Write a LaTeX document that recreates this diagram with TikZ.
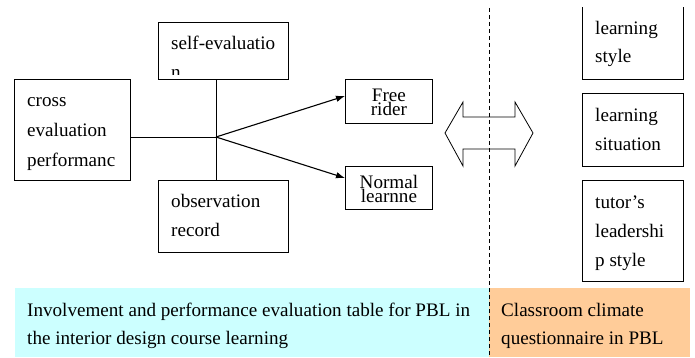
\documentclass[tikz,border=0pt]{standalone}
\usepackage{fontspec}
\setmainfont{Liberation Serif}
\usetikzlibrary{arrows.meta}
\definecolor{cyanbg}{HTML}{CCFFFF}
\definecolor{orangebg}{HTML}{FFCC99}
\begin{document}
\begin{tikzpicture}[x=1pt,y=-1pt,
  box/.style={draw=black,line width=0.8pt,anchor=north west,inner sep=0pt},
  txt/.style={anchor=base west,inner sep=0pt,font=\fontsize{19.1}{22}\selectfont},
  ctxt/.style={anchor=center,inner sep=0pt,align=center,font=\fontsize{19.1}{14.5}\selectfont},
  conn/.style={line width=0.8pt},
  arr/.style={line width=1.1pt,-{Latex[length=9pt,width=6.5pt]}}]
\useasboundingbox (0,0) rectangle (695,358);
% bottom backgrounds
\fill[cyanbg] (15,288) rectangle (489,357);
\fill[orangebg] (489,288) rectangle (690,357);
% dashed divider
\coordinate (dtop) at (489,8);
\coordinate (dbot) at (489,358);
\draw[line width=0.8pt,dash pattern=on 4pt off 3pt] (dtop) -- (dbot);
% left boxes
\node[box,minimum width=130pt,minimum height=57pt] (selfbox) at (158,22) {};
\node[box,minimum width=116pt,minimum height=101pt] (crossbox) at (14,79) {};
\node[box,minimum width=130pt,minimum height=72pt] (obsbox) at (158,180) {};
\node[box,minimum width=87pt,minimum height=44pt] (freebox) at (345,79) {};
\node[box,minimum width=87pt,minimum height=43pt] (normbox) at (345,166) {};
% right boxes
\begin{scope}
\clip (0,8) rectangle (695,358);
\node[box,minimum width=101pt,minimum height=79pt] (lsbox) at (582,0) {};
\end{scope}
\node[box,minimum width=101pt,minimum height=73pt] (sitbox) at (582,93) {};
\node[box,minimum width=101pt,minimum height=101pt] (tutbox) at (582,180) {};
% connectors
\coordinate (J) at (216,137);
\coordinate (fa) at (345,96);
\coordinate (na) at (345,178);
\draw[conn] (J |- selfbox.south) -- (J |- obsbox.north);
\draw[conn] (crossbox.east |- J) -- (J);
\draw[arr] (J) -- (fa);
\draw[arr] (J) -- (na);
% double arrow
\draw[line width=0.8pt] (445,133) -- (463,102) -- (463,117) -- (515,117) -- (515,102) -- (533,133) -- (515,166) -- (515,149) -- (463,149) -- (463,166) -- cycle;
% texts
\node[txt] (c1) at (27,107) {cross};
\node[txt] (c2) at (27,137) {evaluation};
\node[txt] (c3) at (27,166) {performanc};
\node[txt] (s1) at (171,50) {self-evaluatio};
\begin{scope}
\clip (158,22) rectangle (288,75);
\node[txt] (s2) at (171,79) {n};
\end{scope}
\node[txt] (o1) at (171,207) {observation};
\node[txt] (o2) at (171,236) {record};
\node[ctxt] (fr) at ([yshift=-1pt]freebox.center) {Free\\rider};
\node[ctxt] (nl) at ([yshift=-1pt]normbox.center) {Normal\\learnne};
\node[txt] (l1) at (595,35) {learning};
\node[txt] (l2) at (595,63) {style};
\node[txt] (t1) at (595,122) {learning};
\node[txt] (t2) at (595,150) {situation};
\node[txt] (u1) at (595,208) {tutor’s};
\node[txt] (u2) at (595,237) {leadershi};
\node[txt] (u3) at (595,266) {p style};
\node[txt] (b1) at (27,316) {Involvement and performance evaluation table for PBL in};
\node[txt] (b2) at (27,344) {the interior design course learning};
\node[txt] (q1) at (501,316) {Classroom climate};
\node[txt] (q2) at (501,344) {questionnaire in PBL};
\end{tikzpicture}
\end{document}
